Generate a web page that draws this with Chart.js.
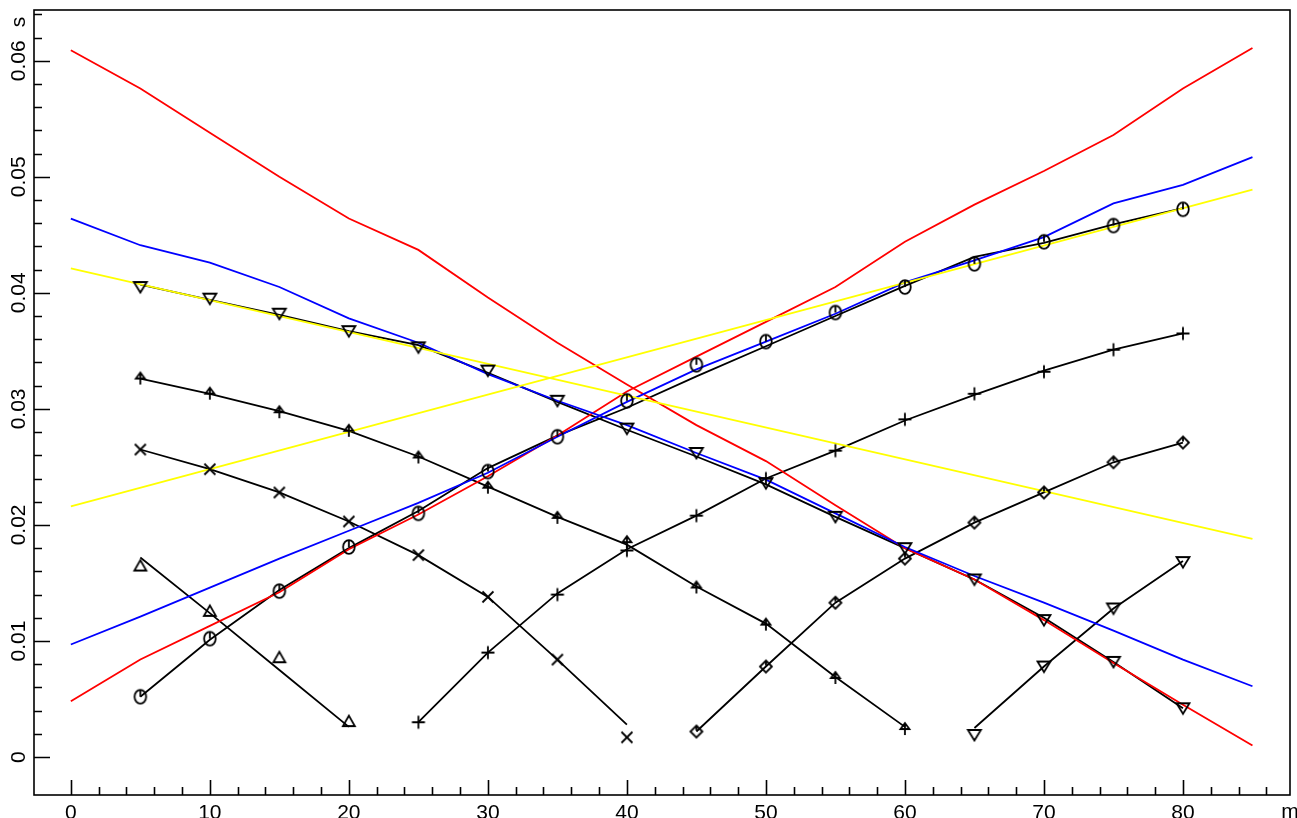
<!DOCTYPE html>
<html>
<head>
<meta charset="utf-8">
<script src="https://cdn.jsdelivr.net/npm/chart.js@4.4.1/dist/chart.umd.min.js"></script>
<style>
  html, body { margin: 0; padding: 0; background: #fff; }
  #wrap { width: 1297px; height: 818px; }
</style>
</head>
<body>
<div id="wrap"><canvas id="myChart"></canvas></div>
<script>
// offsets (m)
const offsetsAll = [0, 5, 10, 15, 20, 25, 30, 35, 40, 45, 50, 55, 60, 65, 70, 75, 80, 85];
const offsets5to80 = [5, 10, 15, 20, 25, 30, 35, 40, 45, 50, 55, 60, 65, 70, 75, 80];
const offsets5to60 = [5, 10, 15, 20, 25, 30, 35, 40, 45, 50, 55, 60];
const offsets5to40 = [5, 10, 15, 20, 25, 30, 35, 40];
const offsets5to20 = [5, 10, 15, 20];
const offsets25to80 = [25, 30, 35, 40, 45, 50, 55, 60, 65, 70, 75, 80];
const offsets45to80 = [45, 50, 55, 60, 65, 70, 75, 80];
const offsets65to80 = [65, 70, 75, 80];
const offsetsEnds = [0, 85];

// travel times (s) - coloured curves
const redDown = [0.0609, 0.0576, 0.0538, 0.0500, 0.0464, 0.0437, 0.0396, 0.0357, 0.0321, 0.0286, 0.0255, 0.0217, 0.0180, 0.0153, 0.0118, 0.0081, 0.0045, 0.0010];
const redUp = [0.0048, 0.0084, 0.0113, 0.0142, 0.0179, 0.0209, 0.0242, 0.0277, 0.0315, 0.0345, 0.0375, 0.0405, 0.0444, 0.0476, 0.0505, 0.0536, 0.0576, 0.0611];
const blueDown = [0.0464, 0.0441, 0.0426, 0.0405, 0.0378, 0.0357, 0.0330, 0.0307, 0.0286, 0.0262, 0.0239, 0.0210, 0.0181, 0.0156, 0.0133, 0.0109, 0.0084, 0.0061];
const blueUp = [0.0097, 0.0121, 0.0146, 0.0171, 0.0195, 0.0219, 0.0245, 0.0276, 0.0306, 0.0334, 0.0358, 0.0382, 0.0409, 0.0428, 0.0448, 0.0477, 0.0493, 0.0517];
const yellowDown = [0.0421, 0.0188];
const yellowUp = [0.0216, 0.0489];

// black computed lines
const lineA = [0.0407, 0.0394, 0.0381, 0.0367, 0.0355, 0.0331, 0.0306, 0.0282, 0.0259, 0.0235, 0.0207, 0.0180, 0.0153, 0.0120, 0.0082, 0.0042];
const lineB = [0.0052, 0.0101, 0.0144, 0.0180, 0.0212, 0.0249, 0.0277, 0.0301, 0.0328, 0.0354, 0.0380, 0.0406, 0.0431, 0.0443, 0.0459, 0.0473];
const lineC = [0.0326, 0.0313, 0.0298, 0.0281, 0.0259, 0.0233, 0.0207, 0.0183, 0.0147, 0.0115, 0.0069, 0.0026];
const lineD = [0.0265, 0.0248, 0.0228, 0.0203, 0.0174, 0.0138, 0.0084, 0.0028];
const lineE = [0.0030, 0.0090, 0.0141, 0.0179, 0.0208, 0.0240, 0.0264, 0.0290, 0.0312, 0.0333, 0.0351, 0.0365];
const lineF = [0.0022, 0.0078, 0.0133, 0.0171, 0.0202, 0.0228, 0.0254, 0.0271];
const lineG = [0.0025, 0.0078, 0.0128, 0.0169];
const lineH = [0.0172, 0.0124, 0.0075, 0.0026];

// picked times (markers)
const pickA = [0.0405, 0.0395, 0.0382, 0.0367, 0.0353, 0.0333, 0.0307, 0.0283, 0.0262, 0.0236, 0.0207, 0.0180, 0.0153, 0.0118, 0.0082, 0.0042];
const pickB = [0.0052, 0.0102, 0.0143, 0.0181, 0.0210, 0.0246, 0.0276, 0.0307, 0.0338, 0.0358, 0.0383, 0.0405, 0.0425, 0.0444, 0.0458, 0.0472];
const pickC = [0.0327, 0.0314, 0.0298, 0.0282, 0.0259, 0.0233, 0.0207, 0.0186, 0.0147, 0.0115, 0.0069, 0.0025];
const pickD = [0.0265, 0.0248, 0.0228, 0.0203, 0.0174, 0.0138, 0.0084, 0.0017];
const pickE = [0.0030, 0.0090, 0.0140, 0.0178, 0.0208, 0.0240, 0.0264, 0.0291, 0.0313, 0.0332, 0.0351, 0.0365];
const pickF = [0.0022, 0.0078, 0.0133, 0.0171, 0.0202, 0.0228, 0.0254, 0.0271];
const pickG = [0.0019, 0.0078, 0.0128, 0.0168];
const pickH = [0.0165, 0.0126, 0.0086, 0.0031];

// axis ticks
const xTickValues = [0, 10, 20, 30, 40, 50, 60, 70, 80];
const xTickLabels = ['0', '10', '20', '30', '40', '50', '60', '70', '80'];
const yTickValues = [0, 0.01, 0.02, 0.03, 0.04, 0.05, 0.06];
const yTickLabels = ['0', '0.01', '0.02', '0.03', '0.04', '0.05', '0.06'];

const pts = (xs, ys) => xs.map((x, i) => ({ x: x, y: ys[i] }));

// marker images
function marker(kind) {
  const c = document.createElement('canvas');
  c.width = 20; c.height = 20;
  const g = c.getContext('2d');
  g.strokeStyle = '#000';
  g.lineWidth = 1.8;
  g.beginPath();
  if (kind === 'circle') {
    g.ellipse(10, 10, 5.8, 6.8, 0, 0, Math.PI * 2);
    g.moveTo(10, 3.2); g.lineTo(10, 10);
  } else if (kind === 'tdown') {
    g.moveTo(3.5, 5); g.lineTo(16.5, 5); g.lineTo(10, 15.5); g.closePath();
  } else if (kind === 'tup') {
    g.moveTo(4, 15); g.lineTo(16, 15); g.lineTo(10, 4.5); g.closePath();
  } else if (kind === 'arrow') {
    g.moveTo(5.5, 11); g.lineTo(14.5, 11); g.lineTo(10, 5); g.closePath();
    g.moveTo(10, 5); g.lineTo(10, 17);
  } else if (kind === 'x') {
    g.moveTo(4.5, 4.5); g.lineTo(15.5, 15.5);
    g.moveTo(15.5, 4.5); g.lineTo(4.5, 15.5);
  } else if (kind === 'plus') {
    g.moveTo(10, 3.5); g.lineTo(10, 16.5);
    g.moveTo(3.5, 10); g.lineTo(16.5, 10);
  } else if (kind === 'diamond') {
    g.moveTo(10, 4); g.lineTo(16, 10); g.lineTo(10, 16); g.lineTo(4, 10); g.closePath();
    g.moveTo(10, 4); g.lineTo(10, 9);
  }
  g.stroke();
  return c;
}

const lineSet = (xs, ys, color, order) => ({
  data: pts(xs, ys), showLine: true, borderColor: color, borderWidth: 1.8,
  pointRadius: 0, fill: false, tension: 0, order: order
});
const pickSet = (xs, ys, kind) => ({
  data: pts(xs, ys), showLine: false, pointStyle: marker(kind),
  pointRadius: 7, borderWidth: 0, order: 0
});

const axisDecor = {
  id: 'axisDecor',
  afterDraw(chart) {
    const { ctx, chartArea: a, scales: { x, y } } = chart;
    ctx.save();
    ctx.strokeStyle = '#000';
    ctx.lineWidth = 1.6;
    ctx.strokeRect(a.left, a.top, a.right - a.left, a.bottom - a.top);
    ctx.beginPath();
    for (let v = 0; v <= 86; v += 2) {
      const px = Math.round(x.getPixelForValue(v)) + 0.5;
      const len = v % 10 === 0 ? 15 : 8;
      ctx.moveTo(px, a.bottom); ctx.lineTo(px, a.bottom - len);
    }
    for (let k = 0; k <= 32; k++) {
      const py = Math.round(y.getPixelForValue(k * 0.002)) + 0.5;
      const len = k % 5 === 0 ? 16 : 8;
      ctx.moveTo(a.left, py); ctx.lineTo(a.left + len, py);
    }
    ctx.stroke();

    ctx.fillStyle = '#000';
    ctx.font = '21px "Liberation Sans", Arial, sans-serif';
    ctx.textAlign = 'center';
    ctx.textBaseline = 'alphabetic';
    xTickValues.forEach((v, i) => {
      ctx.fillText(xTickLabels[i], x.getPixelForValue(v), 819);
    });
    ctx.fillText('m', 1290, 818);
    yTickValues.forEach((v, i) => {
      ctx.save();
      ctx.translate(25, y.getPixelForValue(v));
      ctx.rotate(-Math.PI / 2);
      ctx.fillText(yTickLabels[i], 0, 0);
      ctx.restore();
    });
    ctx.save();
    ctx.translate(25, 22);
    ctx.rotate(-Math.PI / 2);
    ctx.fillText('s', 0, 0);
    ctx.restore();
    ctx.restore();
  }
};

const ctx = document.getElementById('myChart').getContext('2d');
new Chart(ctx, {
  type: 'scatter',
  data: {
    datasets: [
      lineSet(offsetsEnds, yellowDown, '#ffff00', 1),
      lineSet(offsetsEnds, yellowUp, '#ffff00', 1),
      lineSet(offsetsAll, blueDown, '#0000ff', 2),
      lineSet(offsetsAll, blueUp, '#0000ff', 2),
      lineSet(offsetsAll, redDown, '#ff0000', 3),
      lineSet(offsetsAll, redUp, '#ff0000', 3),
      lineSet(offsets5to80, lineA, '#000', 4),
      lineSet(offsets5to80, lineB, '#000', 4),
      lineSet(offsets5to60, lineC, '#000', 4),
      lineSet(offsets5to40, lineD, '#000', 4),
      lineSet(offsets25to80, lineE, '#000', 4),
      lineSet(offsets45to80, lineF, '#000', 4),
      lineSet(offsets65to80, lineG, '#000', 4),
      lineSet(offsets5to20, lineH, '#000', 4),
      pickSet(offsets5to80, pickA, 'tdown'),
      pickSet(offsets5to80, pickB, 'circle'),
      pickSet(offsets5to60, pickC, 'arrow'),
      pickSet(offsets5to40, pickD, 'x'),
      pickSet(offsets25to80, pickE, 'plus'),
      pickSet(offsets45to80, pickF, 'diamond'),
      pickSet(offsets65to80, pickG, 'tdown'),
      pickSet(offsets5to20, pickH, 'tup')
    ]
  },
  options: {
    responsive: true,
    maintainAspectRatio: false,
    animation: false,
    devicePixelRatio: 1,
    layout: { padding: { left: 34, right: 1, top: 10, bottom: 23 } },
    plugins: { legend: { display: false }, tooltip: { enabled: false } },
    scales: {
      x: { type: 'linear', display: false, min: -2.65, max: 87.7 },
      y: { type: 'linear', display: false, min: -0.00327, max: 0.06437 }
    }
  },
  plugins: [axisDecor]
});
</script>
</body>
</html>
